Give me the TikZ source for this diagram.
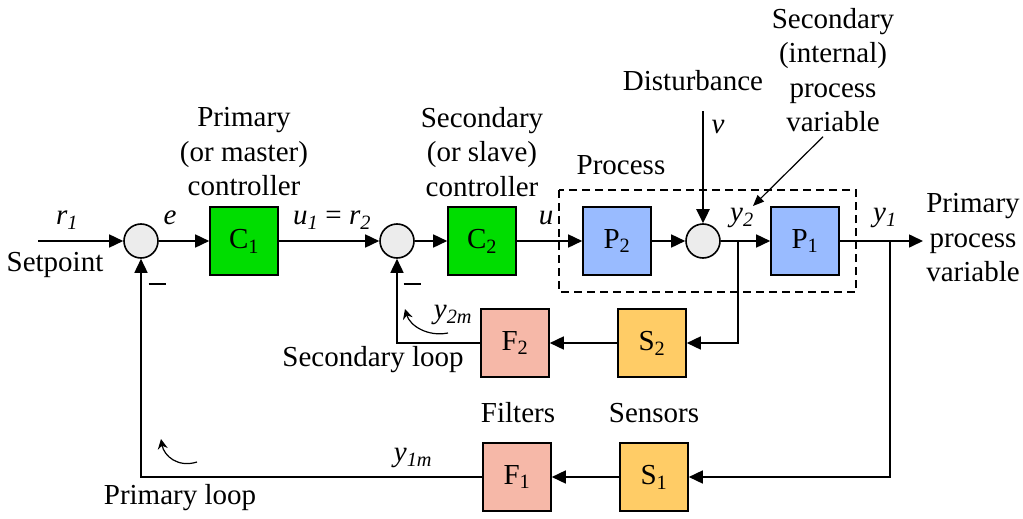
\documentclass[tikz,border=0pt]{standalone}
\usepackage{fontspec}
\setmainfont{Liberation Serif}
\usetikzlibrary{arrows.meta, positioning}
\definecolor{ctrlgreen}{RGB}{0,221,0}
\definecolor{procblue}{RGB}{153,187,255}
\definecolor{filtpink}{RGB}{246,184,168}
\definecolor{sensyellow}{RGB}{255,204,102}

\begin{document}
\begin{tikzpicture}[x=1pt, y=-1pt, line width=1.6pt,
    font=\fontsize{29}{34.5}\selectfont,
    block/.style={draw, minimum width=68pt, minimum height=68pt, inner sep=0pt},
    sumnode/.style={circle, draw, fill=gray!15, minimum size=34pt, inner sep=0pt},
    sig/.style={-{Triangle[length=14pt,width=13pt]}},
    lbl/.style={align=center, inner sep=0pt},
    sglbl/.style={inner sep=0pt, font=\fontsize{29}{34.5}\selectfont\itshape},
    loopar/.style={-{Stealth[length=10pt,width=10pt]}, line width=1.2pt}]
  \useasboundingbox (0,0) rectangle (1023,519);
  % forward path
  \node[sumnode] (s1) at (141,241) {};
  \node[block, fill=ctrlgreen] (C1) at (244,241) {C\textsubscript{1}};
  \node[sumnode] (s2) at (397,241) {};
  \node[block, fill=ctrlgreen] (C2) at (482,241) {C\textsubscript{2}};
  \node[block, fill=procblue] (P2) at (617,241) {P\textsubscript{2}};
  \node[sumnode] (s3) at (703,241) {};
  \node[block, fill=procblue] (P1) at (805,241) {P\textsubscript{1}};
  % feedback blocks
  \node[block, fill=sensyellow] (S2) at (652,343) {S\textsubscript{2}};
  \node[block, fill=filtpink] (F2) at (515,343) {F\textsubscript{2}};
  \node[block, fill=sensyellow] (S1) at (654,477) {S\textsubscript{1}};
  \node[block, fill=filtpink] (F1) at (517,477) {F\textsubscript{1}};
  \coordinate (in) at (38,241);
  \coordinate (out) at (923,241);
  \coordinate (br2) at (738,241);
  \coordinate (br1) at (890,241);
  \coordinate (dist) at (703,111);
  \draw[sig] (in) -- (s1);
  \draw[sig] (s1) -- (C1);
  \draw[sig] (C1) -- (s2);
  \draw[sig] (s2) -- (C2);
  \draw[sig] (C2) -- (P2);
  \draw[sig] (P2) -- (s3);
  \draw[sig] (s3) -- (P1);
  \draw[sig] (P1) -- (out);
  \draw[sig, line width=2.6pt] (dist) -- (s3);
  \draw[sig] (br2) |- (S2);
  \draw[sig] (S2) -- (F2);
  \draw[sig] (F2) -| (s2);
  \draw[sig] (br1) |- (S1);
  \draw[sig] (S1) -- (F1);
  \draw[sig] (F1) -| (s1);
  % process frame
  \draw[line width=1.2pt, dash pattern=on 8pt off 5pt] (559,190) rectangle (856,292);
  % texts
  \node[lbl] (pc) at (244,152) {Primary\\(or master)\\controller};
  \node[lbl] (sc) at (482,152) {Secondary\\(or slave)\\controller};
  \node[lbl] (dl) at (693,81) {Disturbance};
  \node[lbl] (spv) at (833,70) {Secondary\\(internal)\\process\\variable};
  \node[lbl] (pr) at (621,165) {Process};
  \node[lbl] (ppv) at (973,238) {Primary\\process\\variable};
  \node[lbl] (sp) at (55,265) {Setpoint};
  \node[lbl] (sl) at (373,360) {Secondary loop};
  \node[lbl] (pl) at (180,498) {Primary loop};
  \node[lbl] (fl) at (518,413) {Filters};
  \node[lbl] (sn) at (654,413) {Sensors};
  % signals
  \node[sglbl] at (67,220) {r\textsubscript{1}};
  \node[sglbl] at (170,218) {e};
  \node[sglbl] at (332,220) {u\textsubscript{1} \upshape= \itshape r\textsubscript{2}};
  \node[sglbl] at (546,218) {u};
  \node[sglbl] at (718,127) {v};
  \node[sglbl] at (742,218) {y\textsubscript{2}};
  \node[sglbl] at (885,218) {y\textsubscript{1}};
  \node[sglbl] at (453,315) {y\textsubscript{2m}};
  \node[sglbl] at (413,458) {y\textsubscript{1m}};
  % minus signs
  \node[inner sep=0pt] at (157,284) {\rule{17pt}{1.6pt}};
  \node[inner sep=0pt] at (412,284) {\rule{17pt}{1.6pt}};
  % pointers
  \draw[-{Triangle[length=11pt,width=9pt]}, line width=1.2pt] (spv.south) ++(-10,4) -- (753,206);
  \draw[loopar] (448,333) .. controls (428,337) and (410,326) .. (405,309);
  \draw[loopar] (197,462) .. controls (178,468) and (164,456) .. (161,439);
\end{tikzpicture}
\end{document}
